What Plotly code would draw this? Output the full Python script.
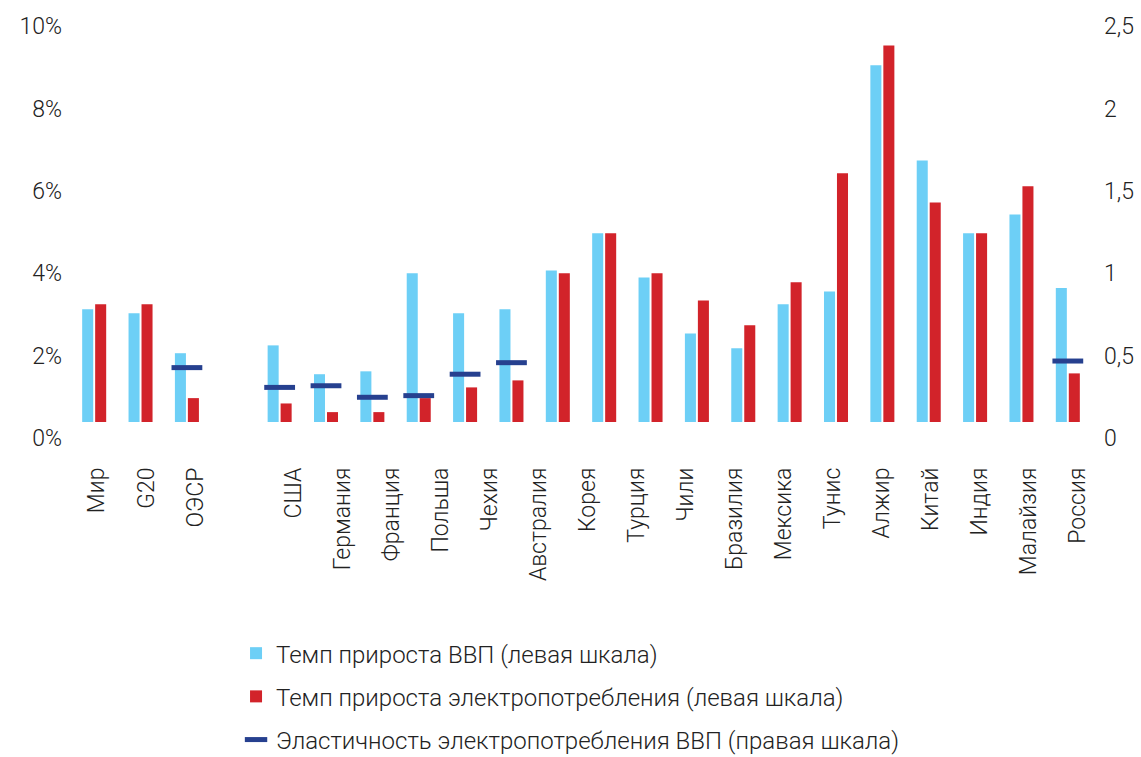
import plotly.graph_objects as go

# Tick labels along the bottom (blank slot separates aggregates from countries)
tick_labels = ["Мир", "G20", "ОЭСР", "",
               "США", "Германия", "Франция", "Польша", "Чехия", "Австралия",
               "Корея", "Турция", "Чили", "Бразилия", "Мексика", "Тунис",
               "Алжир", "Китай", "Индия", "Малайзия", "Россия"]

# Average annual growth, % (left scale); None marks the empty slot
gdp_growth = [2.74, 2.64, 1.67, None,
              1.86, 1.16, 1.23, 3.61, 2.64, 2.74,
              3.68, 4.58, 3.51, 2.15, 1.79, 2.86,
              3.17, 8.66, 6.35, 4.58, 5.04, 3.25]
power_growth = [2.86, 2.86, 0.58, None,
                0.45, 0.24, 0.24, 0.58, 0.84, 1.01,
                3.61, 4.58, 3.61, 2.95, 2.35, 3.39,
                6.04, 9.14, 5.33, 4.58, 5.72, 1.18]

# Elasticity of power consumption to GDP (right scale)
elasticity = [None, None, 0.33, None,
              0.21, 0.22, 0.15, 0.16, 0.29, 0.36,
              None, None, None, None, None, None,
              None, None, None, None, None, 0.37]

left_ticks = [0, 2, 4, 6, 8, 10]
left_tick_text = ["0%", "2%", "4%", "6%", "8%", "10%"]
right_ticks = [0, 0.5, 1, 1.5, 2, 2.5]

BLUE = "#6DCFF6"
RED = "#D2232A"
NAVY = "#26408F"
TEXT = "#222222"
FAMILY = "Roboto, 'Open Sans', sans-serif"
TICK_FONT = dict(family=FAMILY, size=23, color=TEXT, weight=300)
LEGEND_FONT = dict(family=FAMILY, size=24, color=TEXT, weight=300)

slots = list(range(len(gdp_growth)))
label_slots = list(range(len(tick_labels)))

fig = go.Figure()
fig.add_trace(go.Bar(
    x=slots, y=gdp_growth, name="Темп прироста ВВП (левая шкала)",
    marker=dict(color=BLUE, line=dict(width=0)), legendgroup="gdp",
))
fig.add_trace(go.Bar(
    x=slots, y=power_growth, name="Темп прироста электропотребления (левая шкала)",
    marker=dict(color=RED, line=dict(width=0)), legendgroup="power",
))
fig.add_trace(go.Scatter(
    x=slots, y=elasticity, yaxis="y2", mode="markers",
    name="Эластичность электропотребления ВВП (правая шкала)",
    marker=dict(symbol="line-ew", size=22, color=NAVY,
                line=dict(width=5, color=NAVY)),
    legendgroup="elast",
))
# empty carrier trace so the label axis gets drawn
fig.add_trace(go.Scatter(
    x=label_slots, y=[None] * len(label_slots), xaxis="x2", mode="markers",
    showlegend=False, hoverinfo="skip",
))

fig.update_layout(
    width=1141, height=757,
    margin=dict(l=71, r=50, t=8, b=335, autoexpand=False),
    paper_bgcolor="white", plot_bgcolor="white",
    font=TICK_FONT,
    separators=", ",
    barmode="group", bargap=0.44, bargroupgap=0.15,
    showlegend=True,
    legend=dict(
        x=0.1618, y=-0.505, xanchor="left", yanchor="top",
        traceorder="grouped", tracegroupgap=9,
        font=LEGEND_FONT, bgcolor="rgba(0,0,0,0)",
    ),
    xaxis=dict(
        range=[-0.5, len(gdp_growth) - 0.5],
        showticklabels=False, showgrid=False, zeroline=False, showline=False,
        fixedrange=True,
    ),
    # separate axis that carries the country labels
    xaxis2=dict(
        overlaying="x", anchor="y", side="bottom",
        range=[-0.530, 20.265],
        tickmode="array", tickvals=label_slots, ticktext=tick_labels,
        tickangle=-90, ticklabelstandoff=40, tickfont=TICK_FONT,
        showgrid=False, zeroline=False, showline=False, ticks="",
        fixedrange=True,
    ),
    yaxis=dict(
        range=[0, 10.05], tickmode="array", tickvals=left_ticks, ticktext=left_tick_text,
        showgrid=False, zeroline=False, showline=False, ticks="",
        ticklabelshift=16, ticklabelstandoff=8, tickfont=TICK_FONT,
        fixedrange=True,
    ),
    yaxis2=dict(
        overlaying="y", side="right", anchor="x",
        range=[0, 2.5125], tickmode="array", tickvals=right_ticks,
        showgrid=False, zeroline=False, showline=False, ticks="",
        ticklabelshift=16, ticklabelstandoff=12, tickfont=TICK_FONT,
        fixedrange=True,
    ),
)

fig.write_html("out.html")
